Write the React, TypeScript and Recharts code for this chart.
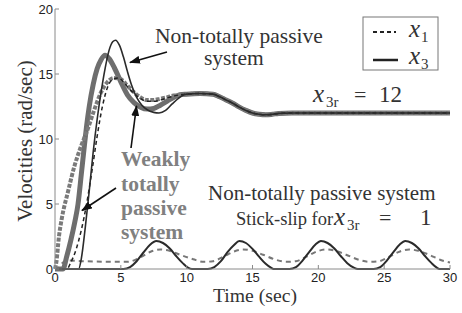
import React from "react"
import { LineChart, Line, XAxis, YAxis } from "recharts"

// time (sec), velocity (rad/sec) pairs
const timeTicks = [0, 5, 10, 15, 20, 25, 30]
const velocityTicks = [0, 5, 10, 15, 20]

// common settling part of the four transient curves, x3r = 12
const settleTail: [number, number][] = [
  [10, 13.45], [11, 13.5], [12, 13.45], [12.5, 13.25], [13, 13.0], [13.5, 12.75],
  [14, 12.45], [14.5, 12.2], [15, 12.0], [15.5, 11.9], [16, 11.86], [16.5, 11.9],
  [17, 11.97], [18, 12.0], [30, 12.0],
]

const nonPassiveX3: [number, number][] = [
  [0, 0], [1.8, 0], [2.0, 0.8], [2.3, 3.2], [2.6, 6.0], [2.9, 9.0], [3.2, 11.5],
  [3.5, 13.6], [3.8, 15.4], [4.1, 16.8], [4.4, 17.5], [4.6, 17.6], [4.9, 17.2],
  [5.2, 16.3], [5.5, 15.2], [5.8, 14.2], [6.2, 13.2], [6.6, 12.6], [7.0, 12.25],
  [7.5, 12.05], [7.9, 12.0], [8.4, 12.2], [8.9, 12.7], [9.4, 13.15], [9.8, 13.4],
]

const nonPassiveX1: [number, number][] = [
  [0, 0], [0.9, 0], [1.2, 0.5], [1.6, 1.5], [2.0, 3.0], [2.4, 5.0], [2.8, 7.5],
  [3.2, 10.2], [3.6, 12.5], [4.0, 14.0], [4.4, 14.6], [4.8, 14.7], [5.2, 14.4],
  [5.6, 13.9], [6.0, 13.5], [6.5, 13.1], [7.0, 12.9], [7.5, 12.9], [8.0, 13.0],
  [8.5, 13.15], [9.0, 13.3], [9.5, 13.4],
]

const weakX3: [number, number][] = [
  [0, 0], [0.6, 0], [0.9, 1.0], [1.2, 2.2], [1.5, 3.6], [1.75, 5.0], [2.0, 7.3],
  [2.2, 9.2], [2.4, 11.0], [2.6, 12.5], [2.9, 14.2], [3.2, 15.4], [3.5, 16.1],
  [3.8, 16.45], [4.1, 16.2], [4.5, 15.5], [5.0, 14.4], [5.5, 13.4], [6.0, 12.8],
  [6.5, 12.45], [7.0, 12.3], [7.5, 12.35], [8.0, 12.6], [8.5, 12.9], [9.0, 13.2],
  [9.5, 13.4],
]

const weakX1: [number, number][] = [
  [0, 0], [0.1, 0.5], [0.3, 2.5], [0.5, 3.8], [1.0, 6.0], [1.5, 8.0], [2.0, 9.5],
  [2.5, 10.8], [3.0, 12.3], [3.5, 13.6], [4.0, 14.4], [4.5, 14.7], [5.0, 14.6],
  [5.5, 14.1], [6.0, 13.6], [6.5, 13.2], [7.0, 13.0], [7.5, 13.0], [8.0, 13.1],
  [8.5, 13.2], [9.0, 13.35], [9.5, 13.4],
]

// stick-slip, x3r = 1
const stickX3: [number, number][] = [
  [0, 0], [5.2, 0], [5.7, 0.15], [6.2, 0.6], [6.7, 1.25], [7.2, 1.85], [7.7, 2.15],
  [8.2, 2.0], [8.7, 1.6], [9.2, 1.0], [9.7, 0.45], [10.1, 0.1], [10.4, 0],
  [11.6, 0], [12.1, 0.15], [12.6, 0.6], [13.1, 1.3], [13.6, 1.85], [14.0, 2.15],
  [14.5, 2.0], [15.0, 1.55], [15.5, 0.95], [16.0, 0.4], [16.4, 0.1], [16.6, 0],
  [17.8, 0], [18.3, 0.15], [18.8, 0.65], [19.3, 1.3], [19.8, 1.9], [20.2, 2.15],
  [20.7, 2.0], [21.2, 1.6], [21.7, 1.0], [22.2, 0.45], [22.7, 0.1], [23.0, 0],
  [24.2, 0], [24.7, 0.15], [25.2, 0.65], [25.7, 1.3], [26.2, 1.9], [26.6, 2.15],
  [27.1, 2.0], [27.6, 1.6], [28.1, 1.0], [28.6, 0.45], [29.0, 0.1], [29.2, 0], [30, 0],
]

const stickX1: [number, number][] = [
  [0, 0], [0.3, 0.1], [0.6, 0.5], [1.0, 0.65], [2.0, 0.6], [5.5, 0.55], [6.5, 0.9],
  [7.3, 1.35], [8.0, 1.5], [8.7, 1.4], [9.5, 1.1], [10.5, 0.75], [11.3, 0.55],
  [12.0, 0.6], [12.8, 0.95], [13.6, 1.35], [14.3, 1.5], [15.0, 1.4], [15.8, 1.1],
  [16.8, 0.7], [17.6, 0.55], [18.3, 0.6], [19.1, 0.95], [19.9, 1.35], [20.6, 1.5],
  [21.3, 1.4], [22.1, 1.1], [23.1, 0.7], [23.9, 0.55], [24.6, 0.6], [25.4, 0.95],
  [26.2, 1.35], [26.9, 1.5], [27.6, 1.4], [28.4, 1.1], [29.4, 0.65], [30, 0.5],
]

const toPts = (arr: [number, number][]) => arr.map(([t, v]) => ({ t, v }))

const serif = "'Liberation Serif', 'Times New Roman', serif"
const axisGray = "#8a8a8a"
const ink = "#333"

// italic x with subscript, then "= value" placed at given x positions
function MathEq({ x, y, sub, subX, eqX, val, valX }: {
  x: number; y: number; sub: string; subX: number; eqX?: number; val?: string; valX?: number
}) {
  return (
    <g fontFamily={serif} fill={ink}>
      <text x={x} y={y} fontSize={25} fontStyle="italic">x</text>
      <text x={subX} y={y + 5} fontSize={15}>{sub}</text>
      {eqX !== undefined && <text x={eqX} y={y} fontSize={22}>=</text>}
      {val && <text x={valX} y={y} fontSize={23}>{val}</text>}
    </g>
  )
}

function Annotations() {
  return (
    <svg width={462} height={313} style={{ position: "absolute", left: 0, top: 0, pointerEvents: "none" }}>
      <defs>
        <marker id="head" markerWidth={11} markerHeight={8} refX={10} refY={4} orient="auto" markerUnits="userSpaceOnUse">
          <path d="M0,0 L11,4 L0,8 z" fill="#111" />
        </marker>
      </defs>

      {/* axis titles */}
      <text x={255} y={302} textAnchor="middle" fontFamily={serif} fontSize={19.7} fill={ink}>Time (sec)</text>
      <text transform="translate(32,141) rotate(-90)" textAnchor="middle" fontFamily={serif} fontSize={21} fill={ink}>
        Velocities (rad/sec)
      </text>

      {/* legend */}
      <rect x={363} y={17} width={75} height={53} fill="#fff" stroke="#777" strokeWidth={1} />
      <line x1={373} y1={32} x2={396} y2={32} stroke="#222" strokeWidth={2} strokeDasharray="4 3" />
      <line x1={373} y1={60} x2={398} y2={60} stroke="#222" strokeWidth={2.5} />
      <MathEq x={409} y={37} sub="1" subX={421} />
      <MathEq x={409} y={64} sub="3" subX={421} />

      {/* labels */}
      <text x={155} y={43} fontFamily={serif} fontSize={21.5} fill={ink}>Non-totally passive</text>
      <text x={204} y={65} fontFamily={serif} fontSize={21.5} fill={ink}>system</text>
      <MathEq x={313} y={102} sub="3r" subX={326} eqX={354} val="12" valX={379} />

      <g fontFamily={serif} fontSize={21.5} fontWeight="bold" fill="#808080">
        <text x={121} y={166}>Weakly</text>
        <text x={121} y={191}>totally</text>
        <text x={121} y={215}>passive</text>
        <text x={121} y={239}>system</text>
      </g>

      <text x={208} y={200} fontFamily={serif} fontSize={21} fill={ink}>Non-totally passive system</text>
      <text x={236} y={225} fontFamily={serif} fontSize={18.5} fill={ink}>Stick-slip for</text>
      <MathEq x={334} y={225} sub="3r" subX={347} eqX={379} val="1" valX={420} />

      {/* arrows */}
      <line x1={167} y1={52} x2={130} y2={62.5} stroke="#111" strokeWidth={1.6} markerEnd="url(#head)" />
      <line x1={131} y1={148} x2={136.5} y2={106} stroke="#111" strokeWidth={1.6} markerEnd="url(#head)" />
      <line x1={116} y1={188} x2={82} y2={210.5} stroke="#111" strokeWidth={1.6} markerEnd="url(#head)" />
    </svg>
  )
}

export default function App() {
  const tick = { fontSize: 13, fill: "#222", fontFamily: "'Liberation Sans', Arial, sans-serif" }
  return (
    <div style={{ position: "absolute", left: 0, top: 0, width: 462, height: 313, background: "#fff" }}>
      <LineChart width={462} height={313} margin={{ top: 9, right: 12, bottom: 14, left: 15 }}>
        <XAxis
          dataKey="t"
          type="number"
          domain={[0, 30]}
          ticks={timeTicks}
          height={30}
          tickSize={-4}
          tickMargin={8}
          tick={tick}
          axisLine={{ stroke: axisGray }}
          tickLine={{ stroke: axisGray }}
          allowDuplicatedCategory={false}
        />
        <XAxis
          xAxisId="top"
          orientation="top"
          type="number"
          domain={[0, 30]}
          ticks={timeTicks}
          height={0}
          tickSize={-4}
          tick={false}
          axisLine={{ stroke: axisGray }}
          tickLine={{ stroke: axisGray }}
        />
        <YAxis
          type="number"
          domain={[0, 20]}
          ticks={velocityTicks}
          width={40}
          tickSize={-4}
          tickMargin={6}
          tick={tick}
          axisLine={{ stroke: axisGray }}
          tickLine={{ stroke: axisGray }}
        />
        <YAxis
          yAxisId="right"
          orientation="right"
          type="number"
          domain={[0, 20]}
          ticks={velocityTicks}
          width={0}
          tickSize={-4}
          tick={false}
          axisLine={{ stroke: axisGray }}
          tickLine={{ stroke: axisGray }}
        />

        <Line data={toPts(stickX1)} dataKey="v" type="monotone" stroke="#777" strokeWidth={2} strokeDasharray="5 4" dot={false} activeDot={false} isAnimationActive={false} />
        <Line data={toPts(stickX3)} dataKey="v" type="monotone" stroke="#2b2b2b" strokeWidth={2} dot={false} activeDot={false} isAnimationActive={false} />
        <Line data={toPts([...weakX3, ...settleTail])} dataKey="v" type="monotone" stroke="#6e6e6e" strokeWidth={5} dot={false} activeDot={false} isAnimationActive={false} />
        <Line data={toPts([...weakX1, ...settleTail])} dataKey="v" type="monotone" stroke="#7a7a7a" strokeWidth={4} strokeDasharray="4 1.5" dot={false} activeDot={false} isAnimationActive={false} />
        <Line data={toPts([...nonPassiveX1, ...settleTail])} dataKey="v" type="monotone" stroke="#222" strokeWidth={1.5} strokeDasharray="4 3" dot={false} activeDot={false} isAnimationActive={false} />
        <Line data={toPts([...nonPassiveX3, ...settleTail])} dataKey="v" type="monotone" stroke="#2b2b2b" strokeWidth={1.6} dot={false} activeDot={false} isAnimationActive={false} />
      </LineChart>
      <Annotations />
    </div>
  )
}
